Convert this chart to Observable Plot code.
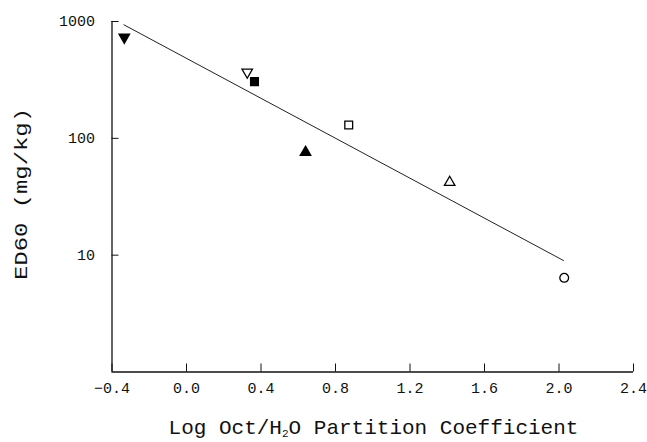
<!DOCTYPE html>
<html><head><meta charset="utf-8">
<script src="https://cdn.jsdelivr.net/npm/d3@7"></script>
<script src="https://cdn.jsdelivr.net/npm/@observablehq/plot@0.6"></script>
<style>html,body{margin:0;padding:0;background:#fff} svg{display:block}</style>
</head><body><div id="chart"></div>
<script>
// Data
const logP   = [-0.334, 0.326, 0.365, 0.639, 0.871, 1.413, 2.028];
const ed60   = [733, 368, 306, 76, 130, 42, 6.4];
const shapes = ["triangle", "triangle", "square", "triangle", "square", "triangle", "circle"];
const filled = [true, false, true, true, false, false, false];
const down   = [true, true, false, false, false, false, false];
// regression line endpoints
const fitX = [-0.336, 2.024];
const fitY = [937, 9.0];
// ticks
const xTicks = [-0.4, 0.0, 0.4, 0.8, 1.2, 1.6, 2.0, 2.4];
const yTicks = [10, 100, 1000];
const xLabelParts = ["Log Oct/H", "2", "O Partition Coefficient"];
const yLabel = "ED60 (mg/kg)";

const points = logP.map((x, i) => ({x, y: ed60[i], shape: shapes[i], filled: filled[i], down: down[i]}));
const fit = fitX.map((x, i) => ({x, y: fitY[i]}));
const tri = points.filter(d => d.shape === "triangle");
const other = points.filter(d => d.shape !== "triangle");

const font = "'Liberation Mono', 'DejaVu Sans Mono', monospace";

const svg = Plot.plot({
  width: 647,
  height: 442,
  marginLeft: 111.5,
  marginRight: 14,
  marginTop: 21,
  marginBottom: 70.5,
  style: {fontFamily: font, fontSize: "15px", background: "white", color: "#111"},
  x: {domain: [-0.4, 2.4]},
  y: {type: "log", domain: [1, 1000]},
  marks: [
    Plot.ruleX([-0.4], {stroke: "#111", strokeWidth: 1.3}),
    Plot.ruleY([1], {stroke: "#111", strokeWidth: 1.3}),
    Plot.axisX(xTicks, {tickSize: -8, tickFormat: () => "", label: null, strokeWidth: 1}),
    Plot.axisX(xTicks, {tickSize: 0, tickPadding: 10, tickFormat: d3.format(".1f"), label: null, fontSize: 15}),
    Plot.axisY(yTicks, {tickSize: -7, tickFormat: () => "", label: null, strokeWidth: 1}),
    Plot.axisY(yTicks, {tickSize: 0, tickPadding: 17, tickFormat: d3.format("d"), label: null, fontSize: 15}),
    Plot.line(fit, {x: "x", y: "y", stroke: "#222", strokeWidth: 1}),
    Plot.dot(tri, {x: "x", y: "y", symbol: "triangle", r: 3.9, rotate: d => d.down ? 180 : 0,
      fill: d => d.filled ? "black" : "none", stroke: "black", strokeWidth: 1.3}),
    Plot.dot(other, {x: "x", y: "y", symbol: d => d.shape, r: 4.4,
      fill: d => d.filled ? "black" : "none", stroke: "black", strokeWidth: 1.3})
  ]
});

const s = d3.select(svg);
const xl = s.append("text")
  .attr("x", 373.5).attr("y", 434)
  .attr("text-anchor", "middle")
  .attr("font-family", font).attr("font-size", 21).attr("fill", "#111");
xl.append("tspan").text(xLabelParts[0]);
xl.append("tspan").attr("font-size", 11).attr("dy", 3).text(xLabelParts[1]);
xl.append("tspan").attr("dy", -3).text(xLabelParts[2]);

s.append("text")
  .attr("transform", "translate(27,194) rotate(-90)")
  .attr("text-anchor", "middle")
  .attr("font-family", font).attr("font-size", 18).attr("fill", "#111")
  .attr("textLength", 172).attr("lengthAdjust", "spacingAndGlyphs")
  .text(yLabel);

document.getElementById("chart").appendChild(svg);
</script>
</body></html>
